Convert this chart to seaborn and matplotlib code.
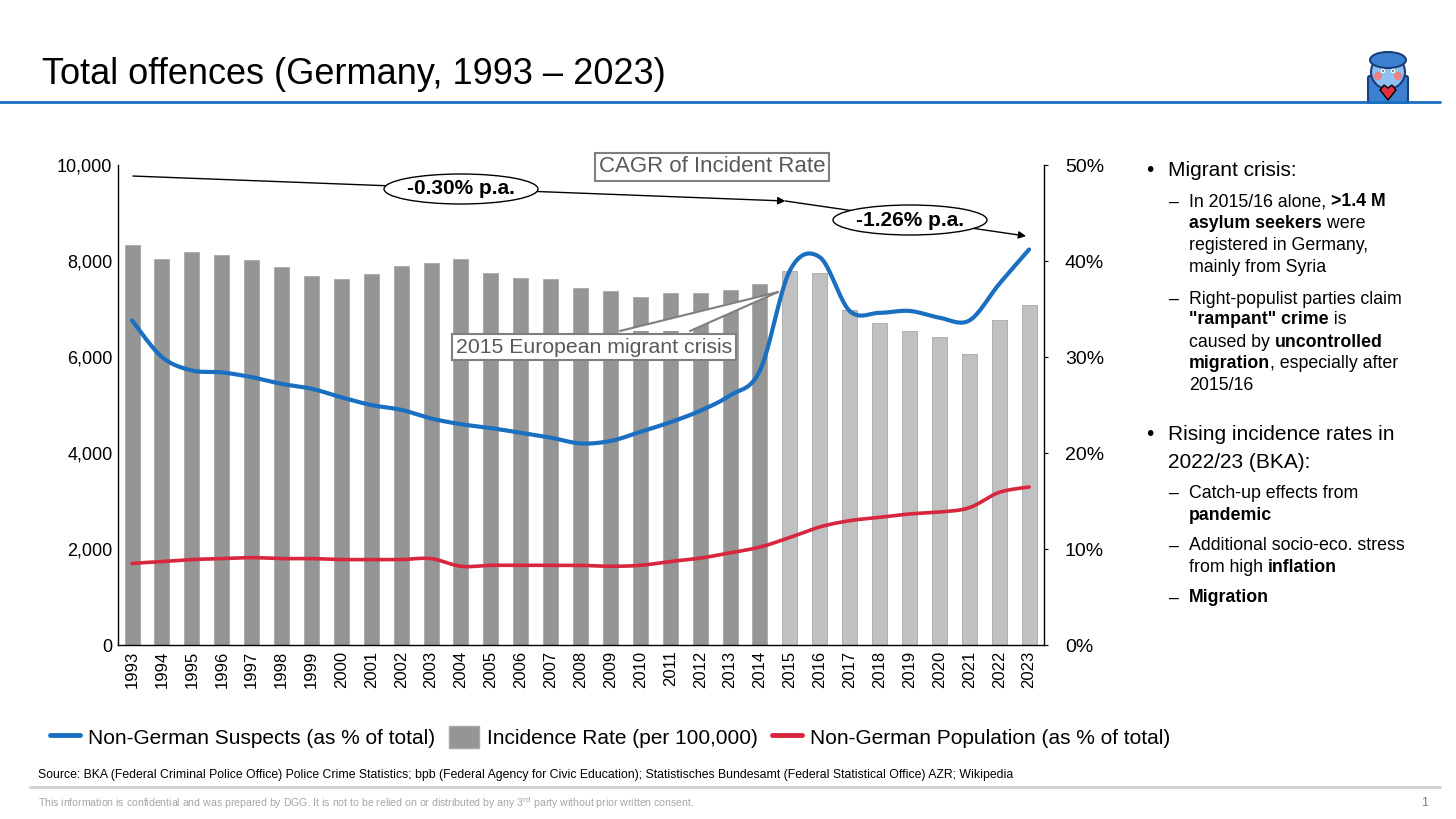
import numpy as np
import pandas as pd
import matplotlib
matplotlib.use("Agg")
import matplotlib.pyplot as plt
import seaborn as sns
from matplotlib.patches import Ellipse, Polygon, Circle, FancyBboxPatch
from matplotlib.lines import Line2D
from matplotlib.ticker import FuncFormatter

years = [str(y) for y in range(1993, 2024)]
incidence = [8337, 8038, 8179, 8125, 8031, 7869, 7682, 7625, 7736, 7893, 7963,
             8037, 7747, 7647, 7635, 7436, 7383, 7253, 7328, 7327, 7404, 7530,
             7797, 7755, 6982, 6710, 6548, 6423, 6070, 6762, 7085]
suspects_pct = [33.8, 30.0, 28.6, 28.4, 27.9, 27.2, 26.7, 25.8, 25.0, 24.5, 23.6,
                23.0, 22.6, 22.1, 21.6, 21.0, 21.25, 22.2, 23.2, 24.4, 26.0, 28.6,
                39.0, 40.4, 34.8, 34.6, 34.8, 34.1, 33.8, 37.6, 41.2]
population_pct = [8.5, 8.7, 8.9, 9.0, 9.1, 9.0, 9.0, 8.9, 8.9, 8.9, 9.0,
                  8.2, 8.3, 8.3, 8.3, 8.3, 8.2, 8.3, 8.7, 9.05, 9.6, 10.2,
                  11.2, 12.3, 12.95, 13.3, 13.65, 13.85, 14.3, 15.9, 16.45]
period = ["pre"] * 22 + ["post"] * 9

df = pd.DataFrame({"year": years, "incidence": incidence, "period": period})

BLUE = "#1a6fc0"
RED = "#d7263d"
DARK = "#959595"
LIGHT = "#c0c0c0"
FONT = "Liberation Sans"

sns.set_style("white")
plt.rcParams["font.family"] = [FONT, "DejaVu Sans"]
plt.rcParams["text.color"] = "black"
plt.rcParams["xtick.color"] = "black"
plt.rcParams["ytick.color"] = "black"

W, H = 1456, 819
fig = plt.figure(figsize=(W / 100, H / 100), dpi=100)


def fx(px):
    return px / W


def fy(py):
    return 1 - py / H


def smooth(vals, n=20):
    # Catmull-Rom curve through the points, like Excel's "smoothed line"
    p = np.asarray(vals, dtype=float)
    x = np.arange(len(p), dtype=float)
    xs, ys = [], []
    for i in range(len(p) - 1):
        i0, i3 = max(i - 1, 0), min(i + 2, len(p) - 1)
        t = np.linspace(0, 1, n, endpoint=False)
        for arr, out in ((x, xs), (p, ys)):
            P0, P1, P2, P3 = arr[i0], arr[i], arr[i + 1], arr[i3]
            c1 = P1 + (P2 - P0) / 6
            c2 = P2 - (P3 - P1) / 6
            out.extend((1 - t) ** 3 * P1 + 3 * (1 - t) ** 2 * t * c1
                       + 3 * (1 - t) * t ** 2 * c2 + t ** 3 * P2)
    xs.append(x[-1])
    ys.append(p[-1])
    return np.array(xs), np.array(ys)


ax = fig.add_axes([fx(118), fy(645), fx(1044 - 118), (645 - 165) / H])
sns.barplot(data=df, x="year", y="incidence", hue="period",
            palette={"pre": DARK, "post": LIGHT}, width=0.5, legend=False,
            edgecolor="#a8a8a8", linewidth=0.6, ax=ax, zorder=2)
ax.set_xlim(-0.47, 30.5)
ax.set_ylim(0, 10000)
ax.set_yticks(range(0, 10001, 2000))
ax.yaxis.set_major_formatter(FuncFormatter(lambda v, p: f"{int(v):,}"))
ax.set_xlabel("")
ax.set_ylabel("")
ax.tick_params(axis="x", labelrotation=90, labelsize=12, length=0, pad=4)
ax.tick_params(axis="y", labelsize=13, length=0, pad=4)
for s in ["top", "right"]:
    ax.spines[s].set_visible(False)
for s in ["left", "bottom"]:
    ax.spines[s].set_color("black")
    ax.spines[s].set_linewidth(1)

ax2 = ax.twinx()
ax2.set_ylim(0, 50)
ax2.set_yticks(range(0, 51, 10))
ax2.yaxis.set_major_formatter(FuncFormatter(lambda v, p: f"{int(v)}%"))
ax2.tick_params(axis="y", labelsize=14, length=3, pad=12, color="black")
for s in ["top", "left", "bottom"]:
    ax2.spines[s].set_visible(False)
ax2.spines["right"].set_color("black")
ax2.spines["right"].set_linewidth(1)

sx, sy = smooth(suspects_pct)
ax2.plot(sx, sy, color=BLUE, lw=3, solid_capstyle="round", zorder=4)
px_, py_ = smooth(population_pct)
ax2.plot(px_, py_, color=RED, lw=2.6, solid_capstyle="round", zorder=4)
ax2.set_xlim(-0.47, 30.5)

# CAGR arrows
arrow = dict(arrowstyle="-|>", color="black", lw=1, mutation_scale=11,
             shrinkA=0, shrinkB=0)
ax.annotate("", xy=(21.85, 9250), xytext=(0.03, 9770), arrowprops=arrow,
            annotation_clip=False, zorder=6)
ax.annotate("", xy=(29.9, 8520), xytext=(21.85, 9250), arrowprops=arrow,
            annotation_clip=False, zorder=6)

for cx, cy, label in [(461, 189, "-0.30% p.a."), (910, 220, "-1.26% p.a.")]:
    fig.patches.append(Ellipse((fx(cx), fy(cy)), fx(154), 30 / H,
                               transform=fig.transFigure, facecolor="white",
                               edgecolor="black", lw=1, zorder=7))
    fig.text(fx(cx), fy(cy), label, ha="center", va="center", fontsize=15,
             weight="bold", zorder=8)

fig.text(fx(712), fy(167), "CAGR of Incident Rate", ha="center", va="center",
         fontsize=16, color="#595959", zorder=8,
         bbox=dict(boxstyle="square,pad=0.15", facecolor="white",
                   edgecolor="#7f7f7f", lw=1.5))

# migrant crisis callout
fig.text(fx(594), fy(347), "2015 European migrant crisis", ha="center",
         va="center", fontsize=15.3, color="#595959", zorder=8,
         bbox=dict(boxstyle="square,pad=0.18", facecolor="white",
                   edgecolor="#7f7f7f", lw=1.5))
tip = (fx(778), fy(292))
b1, b2 = (fx(620), fy(331)), (fx(690), fy(331))
fig.patches.append(Polygon([b1, tip, b2], closed=True, transform=fig.transFigure,
                           facecolor="white", edgecolor="none", zorder=9))
for b in (b1, b2):
    fig.lines.append(Line2D([b[0], tip[0]], [b[1], tip[1]], color="#7f7f7f",
                            lw=1.5, transform=fig.transFigure, zorder=10))

# title
fig.text(fx(42), fy(75), "Total offences (Germany, 1993 \u2013 2023)",
         fontsize=26, va="center", ha="left")
fig.lines.append(Line2D([0, fx(1440)], [fy(102), fy(102)], color=BLUE, lw=2,
                        transform=fig.transFigure))

# little mascot
ic = fig.add_axes([fx(1362), fy(104), fx(52), 60 / H])
ic.set_xlim(0, 52)
ic.set_ylim(0, 60)
ic.axis("off")
ic.add_patch(FancyBboxPatch((8, 0), 36, 26, boxstyle="round,pad=2",
                            facecolor="#3d7fd0", edgecolor="#1b3f7a", lw=1.5))
ic.add_patch(Circle((26, 32), 17, facecolor="#8fc0f0", edgecolor="#1b3f7a", lw=1.5))
ic.add_patch(Ellipse((26, 44), 36, 16, facecolor="#3d7fd0", edgecolor="#1b3f7a", lw=1.5))
ic.add_patch(Circle((16, 28), 4, facecolor="#f08080", edgecolor="none"))
ic.add_patch(Circle((36, 28), 4, facecolor="#f08080", edgecolor="none"))
ic.add_patch(Circle((21, 33), 1.5, facecolor="black"))
ic.add_patch(Circle((31, 33), 1.5, facecolor="black"))
ic.add_patch(Polygon([(18, 14), (26, 4), (34, 14), (30, 19), (26, 16), (22, 19)],
                     facecolor="#e03040", edgecolor="black", lw=1))

# right side notes


def rich(x, y, runs, size):
    r = fig.canvas.get_renderer()
    for txt, bold in runs:
        t = fig.text(x, y, txt, fontsize=size, va="center", ha="left",
                     weight="bold" if bold else "normal")
        x += t.get_window_extent(r).width / W


main_size, sub_size = 15, 12.8
notes_main = [(170, [("Migrant crisis:", False)]),
              (435, [("Rising incidence rates in", False)]),
              (462, [("2022/23 (BKA):", False)])]
notes_sub = [
    (202, [("In 2015/16 alone, ", False), (">1.4 M", True)], True),
    (224, [("asylum seekers", True), (" were", False)], False),
    (246, [("registered in Germany,", False)], False),
    (268, [("mainly from Syria", False)], False),
    (299, [("Right-populist parties claim", False)], True),
    (320, [('"rampant" crime', True), (" is", False)], False),
    (342, [("caused by ", False), ("uncontrolled", True)], False),
    (364, [("migration", True), (", especially after", False)], False),
    (386, [("2015/16", False)], False),
    (493, [("Catch-up effects from", False)], True),
    (515, [("pandemic", True)], False),
    (546, [("Additional socio-eco. stress", False)], True),
    (567, [("from high ", False), ("inflation", True)], False),
    (598, [("Migration", True)], True),
]
for yy, runs in notes_main:
    rich(fx(1168), fy(yy), runs, main_size)
for yy in (170, 435):
    fig.text(fx(1146), fy(yy), "\u2022", fontsize=main_size, va="center")
for yy, runs, dash in notes_sub:
    if dash:
        fig.text(fx(1169), fy(yy), "\u2013", fontsize=sub_size, va="center")
    rich(fx(1189), fy(yy), runs, sub_size)

# legend
handles = [Line2D([0], [0], color=BLUE, lw=3.5),
           plt.Rectangle((0, 0), 1, 1, facecolor=DARK, edgecolor="#a8a8a8"),
           Line2D([0], [0], color=RED, lw=3.5)]
labels = ["Non-German Suspects (as % of total)", "Incidence Rate (per 100,000)",
          "Non-German Population (as % of total)"]
fig.legend(handles, labels, loc="center", bbox_to_anchor=(fx(610), fy(737)),
           ncol=3, frameon=False, fontsize=15, handlelength=1.45,
           handleheight=1.2, handletextpad=0.35, columnspacing=0.7)

fig.text(fx(38), fy(775),
         "Source: BKA (Federal Criminal Police Office) Police Crime Statistics; "
         "bpb (Federal Agency for Civic Education); Statistisches Bundesamt "
         "(Federal Statistical Office) AZR; Wikipedia",
         fontsize=8.8, va="center")
fig.lines.append(Line2D([fx(30), fx(1440)], [fy(787), fy(787)], color="#d0d0d0",
                        lw=2, transform=fig.transFigure))
fig.text(fx(38), fy(803),
         "This information is confidential and was prepared by DGG. It is not to be "
         "relied on or distributed by any 3$^{\\rm rd}$ party without prior written consent.",
         fontsize=7.6, color="#a6a6a6", va="center")
fig.text(fx(1428), fy(803), "1", fontsize=9, color="#7f7f7f", va="center", ha="right")

fig.savefig("out.png", dpi=100)
